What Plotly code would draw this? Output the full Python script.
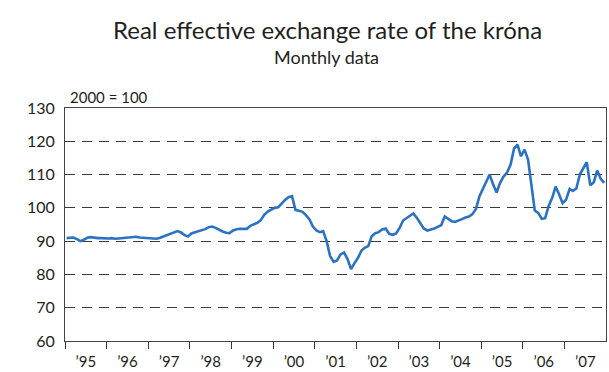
import plotly.graph_objects as go

# Real effective exchange rate of the króna, index 2000 = 100, monthly
rer_1995 = [90.9, 91.0, 91.1, 90.6, 90.0, 90.4, 91.0, 91.2, 91.0, 90.9, 90.9, 90.8]
rer_1996 = [90.8, 90.9, 90.7, 90.8, 90.9, 91.0, 91.1, 91.4, 91.3, 91.1, 91.0, 91.1]
rer_1997 = [90.8, 90.7, 90.7, 91.0, 91.4, 91.8, 92.3, 92.8, 93.0, 92.6, 91.8, 91.4]
rer_1998 = [92.3, 92.7, 93.0, 93.2, 93.6, 94.2, 94.4, 94.0, 93.4, 92.9, 92.5, 92.4]
rer_1999 = [93.2, 93.6, 93.7, 93.8, 93.7, 94.6, 95.1, 95.5, 96.3, 97.9, 98.9, 99.5]
rer_2000 = [100.0, 100.2, 101.3, 102.4, 103.2, 103.5, 99.4, 99.0, 98.8, 97.8, 96.5, 94.4]
rer_2001 = [93.2, 92.7, 93.0, 90.0, 85.5, 83.8, 84.2, 86.0, 86.6, 84.6, 81.6, 83.4]
rer_2002 = [85.0, 87.2, 88.0, 88.5, 91.5, 92.4, 92.7, 93.5, 93.8, 92.2, 91.9, 92.3]
rer_2003 = [94.0, 96.2, 96.9, 97.5, 98.3, 97.0, 95.4, 93.8, 93.2, 93.4, 93.8, 94.3]
rer_2004 = [94.8, 97.4, 96.8, 96.0, 95.8, 96.1, 96.6, 97.1, 97.4, 98.1, 99.7, 103.4]
rer_2005 = [105.8, 108.0, 110.0, 107.0, 104.6, 107.5, 109.4, 110.6, 113.0, 117.8, 119.0, 115.5]
rer_2006 = [117.5, 114.5, 107.5, 99.2, 98.5, 96.7, 96.9, 100.6, 103.0, 106.4, 104.0, 101.4]
rer_2007 = [102.5, 105.7, 105.1, 105.8, 110.0, 111.8, 113.7, 106.8, 107.7, 111.2, 108.7, 107.5]

years = list(range(1995, 2008))
yearly = [rer_1995, rer_1996, rer_1997, rer_1998, rer_1999, rer_2000, rer_2001,
          rer_2002, rer_2003, rer_2004, rer_2005, rer_2006, rer_2007]

dates, values = [], []
for yr, vals in zip(years, yearly):
    for i, v in enumerate(vals):
        dates.append(f"{yr}-{i + 1:02d}-15")
        values.append(v)

y_ticks = [60, 70, 80, 90, 100, 110, 120, 130]

W, H = 609, 372
M_L, M_R, M_T, M_B = 65, 2, 108, 22
FONT = "Lato"
TEXT = "#231f20"


def page_to_paper(px, py):
    """Convert a page pixel position into paper coordinates of the plot area."""
    x = (px - M_L) / (W - M_L - M_R)
    y = ((H - M_B) - py) / (H - M_T - M_B)
    return x, y


fig = go.Figure()
fig.add_trace(go.Scatter(
    x=dates, y=values, mode="lines",
    line=dict(color="#2b72c2", width=2.6),
    hoverinfo="skip",
))

title_x, title_y = page_to_paper(328, 26)
sub_x, sub_y = page_to_paper(327, 55)
unit_x, unit_y = page_to_paper(68, 97)

fig.update_layout(
    width=W, height=H,
    margin=dict(l=M_L, r=M_R, t=M_T, b=M_B),
    paper_bgcolor="white", plot_bgcolor="white",
    showlegend=False,
    font=dict(family=FONT, color=TEXT, size=15),
    xaxis=dict(
        type="date",
        range=["1995-01-01", "2007-12-31"],
        tick0="1995-01-01", dtick="M12",
        tickformat="\u2019%y",
        ticklabelmode="period",
        ticks="outside", ticklen=7, tickcolor="#333333", tickwidth=1,
        showgrid=False, zeroline=False,
        showline=True, linecolor="#444444", linewidth=1, mirror=True,
        tickfont=dict(size=15, family=FONT, color=TEXT),
    ),
    yaxis=dict(
        range=[60, 130],
        tickvals=y_ticks,
        ticks="", ticklabelstandoff=6,
        showgrid=True, gridcolor="#3a3a3a", gridwidth=1, griddash="10px,7px",
        zeroline=False,
        showline=True, linecolor="#444444", linewidth=1, mirror=True,
        tickfont=dict(size=16, family=FONT, color=TEXT),
    ),
    annotations=[
        dict(text="Real effective exchange rate of the króna",
             x=title_x, y=title_y, xref="paper", yref="paper",
             showarrow=False, yanchor="middle",
             font=dict(size=24, family=FONT, color=TEXT)),
        dict(text="Monthly data",
             x=sub_x, y=sub_y, xref="paper", yref="paper",
             showarrow=False, yanchor="middle",
             font=dict(size=18, family=FONT, color=TEXT)),
        dict(text="2000 = 100",
             x=unit_x, y=unit_y, xref="paper", yref="paper",
             showarrow=False, xanchor="left", yanchor="middle",
             font=dict(size=15, family=FONT, color=TEXT)),
    ],
)

fig.write_html("out.html")
